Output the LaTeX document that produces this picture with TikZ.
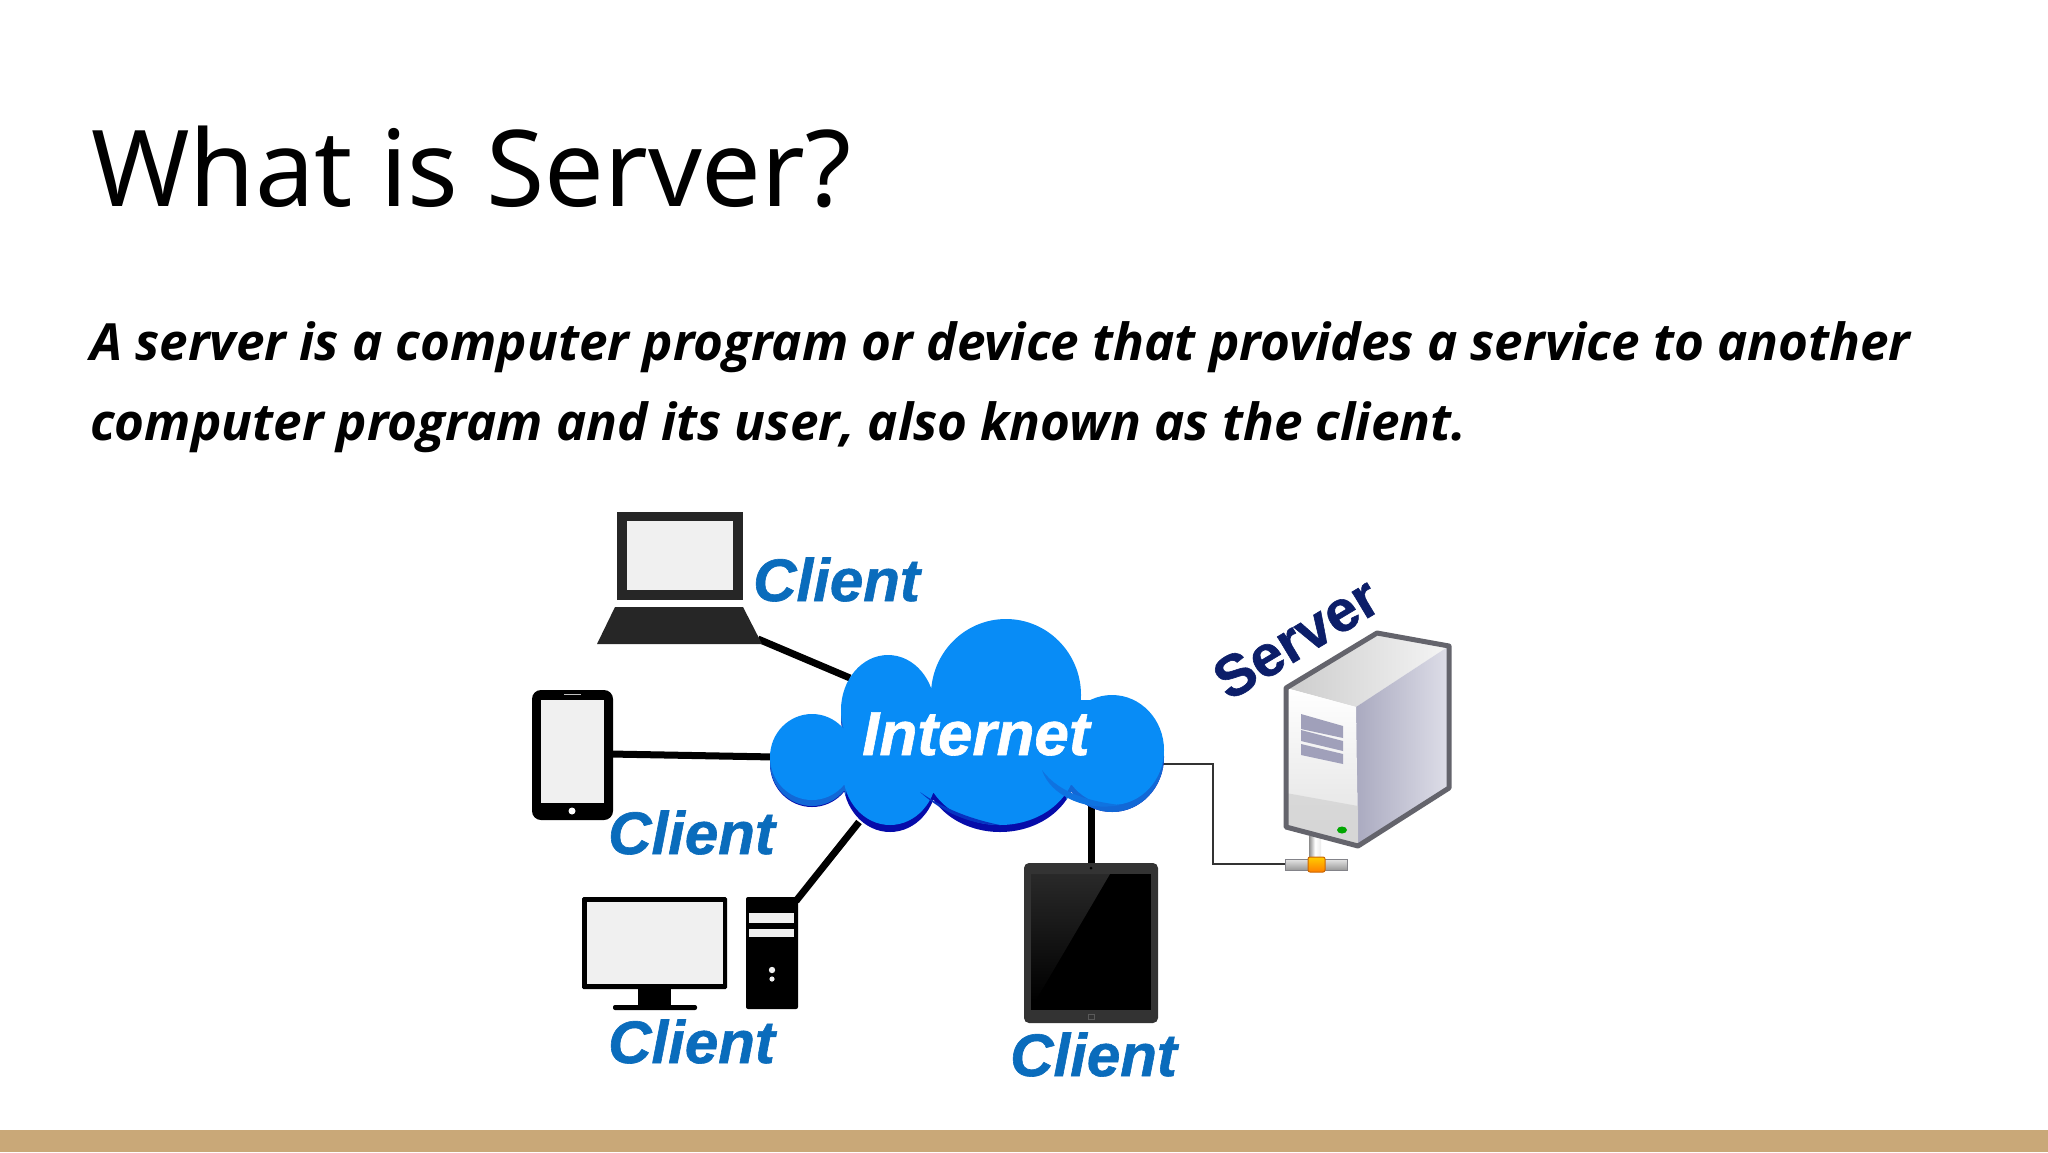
\documentclass[tikz,border=0pt]{standalone}
\usepackage{fontspec}
\setmainfont{Open Sans}
\newfontfamily\titlefont{Noto Sans}
\newfontfamily\logofont[BoldFeatures={FakeBold=1},BoldItalicFeatures={FakeBold=1}]{Liberation Sans}
\definecolor{barcol}{RGB}{201,168,120}
\definecolor{clientblue}{RGB}{10,108,188}
\definecolor{servernavy}{RGB}{12,30,105}
\definecolor{cloudmain}{RGB}{8,140,246}
\definecolor{cloudmid}{RGB}{18,104,214}
\definecolor{clouddark}{RGB}{6,12,170}
\definecolor{screen}{RGB}{240,240,240}
\definecolor{srvedge}{RGB}{100,100,108}
\definecolor{srvside}{RGB}{170,170,192}
\definecolor{srvsidelt}{RGB}{222,222,232}
\definecolor{srvvent}{RGB}{160,160,186}
\newcommand{\cloudpath}{(1006,695) ellipse (75pt and 76pt)
  (888,710) ellipse (47pt and 55pt)
  (812,757) ellipse (42pt and 43pt)
  (1112,750) ellipse (52pt and 55pt)
  (1000,762) ellipse (76pt and 63pt)
  (890,772) ellipse (47pt and 53pt)
  (850,700) rectangle (1100,785)}
\tikzset{
  linktxt/.style={inner sep=0pt,anchor=base west,font=\logofont\bfseries\itshape\fontsize{60}{60}\selectfont,text=clientblue},
  thick link/.style={draw=black,line width=7pt},
}
\begin{document}
\begin{tikzpicture}[x=1pt,y=-1pt]
\useasboundingbox (0,0) rectangle (2048,1152);
\fill[white] (0,0) rectangle (2048,1152);
\fill[barcol] (0,1130) rectangle (2048,1152);

\node[inner sep=0pt,anchor=base west,font=\titlefont\fontsize{106}{106}\selectfont] (title) at (91,206) {What is Server?};
\node[inner sep=0pt,anchor=base west,font=\bfseries\itshape\fontsize{51.2}{51.2}\selectfont] (line1) at (90,360) {A server is a computer program or device that provides a service to another};
\node[inner sep=0pt,anchor=base west,font=\bfseries\itshape\fontsize{51.2}{51.2}\selectfont] (line2) at (90,440) {computer program and its user, also known as the client.};

% anchors
\coordinate (cloudA) at (850,678);
\coordinate (cloudB) at (775,757);
\coordinate (cloudC) at (859,822);
\coordinate (cloudD) at (1091,800);
\coordinate (cloudE) at (1160,764);
\coordinate (laptopEnd) at (758,639);
\coordinate (phoneEnd) at (610,754);
\coordinate (towerEnd) at (796,901);
\coordinate (tabletEnd) at (1091,866);
\coordinate (busEnd) at (1288,864);

% connectors
\draw[thick link] (laptopEnd) -- (cloudA);
\draw[thick link] (phoneEnd) -- (cloudB);
\draw[thick link] (towerEnd) -- (cloudC);
\draw[thick link] (cloudD) -- (tabletEnd);
\draw[draw=black!80,line width=2pt] (cloudE) -- (1213,764) |- (busEnd);

% cloud
\begin{scope}[yshift=-7pt]
\fill[clouddark] \cloudpath;
\end{scope}
\begin{scope}
\clip (760,700) rectangle (846,815);
\begin{scope}[yshift=-6pt]\fill[cloudmid] \cloudpath;\end{scope}
\end{scope}
\begin{scope}
\clip (1066,700) rectangle (1170,820);
\begin{scope}[yshift=-7pt]\fill[cloudmid] \cloudpath;\end{scope}
\end{scope}
\fill[cloudmain] \cloudpath;
\fill[cloudmid!70!cloudmain] (1042,770) .. controls (1050,795) and (1085,812) .. (1120,805) .. controls (1095,802) and (1060,795) .. (1042,770) -- cycle;
\fill[clouddark!70!cloudmain] (920,792) .. controls (945,815) and (975,825) .. (1000,825) .. controls (975,820) and (945,810) .. (920,792) -- cycle;
\node[inner sep=0pt,anchor=base west,text=white,font=\logofont\bfseries\itshape\fontsize{62}{62}\selectfont] (internet) at (862,755) {Internet};

% laptop
\node[draw=none,fill=black!85,inner sep=0pt,minimum width=126pt,minimum height=88pt] (laptopscreen) at (680,556) {};
\fill[screen] (627,521) rectangle (733,590);
\fill[black!85] (615,607) -- (743,607) -- (762,644) -- (597,644) -- cycle;
\node[linktxt] (client1) at (753,601) {Client};

% phone
\fill[black,rounded corners=9pt] (532,690) rectangle (613,820);
\fill[screen] (541,700) rectangle (604,803);
\draw[white!75!black,line width=1.2pt] (564,694.5) -- (581,694.5);
\fill[white] (572,811) circle (3.5pt);
\node[linktxt] (client2) at (608,854) {Client};

% desktop
\fill[black,rounded corners=1.5pt] (582,897) rectangle (727,989);
\fill[screen] (587,902) rectangle (723,984);
\fill[black] (638,989) rectangle (671,1006);
\fill[black,rounded corners=2pt] (613,1005) rectangle (697,1010);
\fill[black,rounded corners=2pt] (746,897) rectangle (798,1009);
\fill[screen] (749,913) rectangle (794,923);
\fill[screen] (749,929) rectangle (794,937);
\fill[screen] (772,970) circle (3.2pt);
\fill[screen] (772,979) circle (2.6pt);
\node[linktxt] (client3) at (608,1063) {Client};

% tablet
\fill[black!80,rounded corners=5pt] (1024,863) rectangle (1158,1023);
\fill[black] (1031,874) rectangle (1151,1010);
\shade[top color=black!84,bottom color=black] (1031,874) -- (1110,874) -- (1036,1000) -- (1031,1000) -- cycle;
\fill[black] (1091,868) circle (1.5pt);
\draw[black!65,line width=.6pt] (1088,1014) rectangle (1094,1019);
\node[linktxt] (client4) at (1010,1076) {Client};

% network tap
\shade[left color=black!45,right color=black!8,middle color=white] (1309,836) rectangle (1321,860);
\shade[top color=white!90!black,bottom color=black!40,draw=srvedge!80,line width=1pt] (1285,859) rectangle (1347,870);
\shade[top color=yellow!60!orange,bottom color=orange,draw=orange!80!black,line width=1pt,rounded corners=2pt] (1308,857) rectangle (1325,872);

% server tower
\shade[left color=black!20,right color=black!4] (1286,688) -- (1377,633) -- (1449,646) -- (1356,707) -- cycle;
\shade[left color=srvside,right color=srvsidelt] (1356,707) -- (1449,646) -- (1449,788) -- (1358,846) -- cycle;
\shade[top color=white,bottom color=black!12] (1286,688) -- (1356,707) -- (1358,846) -- (1286,827) -- cycle;
\fill[black!18,opacity=.7] (1286,793) -- (1358,806) -- (1358,846) -- (1286,827) -- cycle;
\fill[srvvent] (1301,714) -- (1343,726) -- (1343,738) -- (1301,729) -- cycle;
\fill[srvvent] (1301,730) -- (1343,741) -- (1343,751) -- (1301,741) -- cycle;
\fill[srvvent] (1301,744) -- (1343,754) -- (1343,764) -- (1301,755) -- cycle;
\draw[srvedge,line width=5pt,line join=round] (1286,688) -- (1377,633) -- (1449,646) -- (1449,788) -- (1358,846) -- (1286,827) -- cycle;
\fill[green!65!black] (1342,830) ellipse (5pt and 3.5pt);

\node[inner sep=0pt,rotate=31,text=servernavy,font=\logofont\bfseries\fontsize{58}{58}\selectfont] (server) at (1296,638) {Server};
\end{tikzpicture}
\end{document}
